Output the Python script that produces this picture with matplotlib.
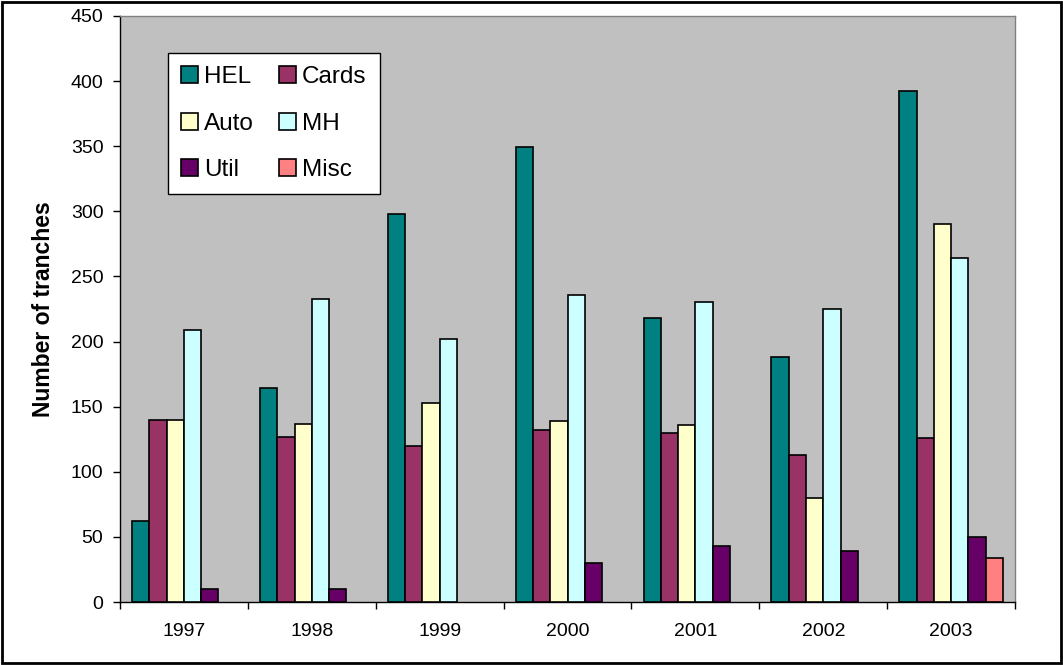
import numpy as np
import matplotlib.pyplot as plt
from matplotlib.patches import Rectangle

plt.rcParams['font.family'] = ['Liberation Sans', 'DejaVu Sans']

years = ['1997', '1998', '1999', '2000', '2001', '2002', '2003']
series = ['HEL', 'Cards', 'Auto', 'MH', 'Util', 'Misc']
hel = [62, 164, 298, 349, 218, 188, 392]
cards = [140, 127, 120, 132, 130, 113, 126]
auto = [140, 137, 153, 139, 136, 80, 290]
mh = [209, 233, 202, 236, 230, 225, 264]
util = [10, 10, 0, 30, 43, 39, 50]
misc = [0, 0, 0, 0, 0, 0, 34]
colors = ['#008080', '#993366', '#FFFFCC', '#CCFFFF', '#660066', '#FF8080']

values = [hel, cards, auto, mh, util, misc]

fig = plt.figure(figsize=(10.63, 6.65), dpi=100)
ax = fig.add_axes([0.1129, 0.0947, 0.842, 0.8813])
ax.set_facecolor('#C0C0C0')

x = np.arange(len(years))
w = 0.135
handles = []
for i, (name, vals) in enumerate(zip(series, values)):
    off = (i - 2.5) * w
    v = np.array(vals, dtype=float)
    # skip empty bars so they don't leave a black line on the axis
    mask = v > 0
    b = ax.bar(x[mask] + off, v[mask], w, color=colors[i], edgecolor='black',
               linewidth=1.2, label=name, zorder=3)
    handles.append(b)

ax.set_xlim(-0.5, len(years) - 0.5)
ax.set_ylim(0, 450)
ax.set_yticks(range(0, 451, 50))
ax.set_xticks(x)
ax.set_xticklabels(years)
ax.set_xticks(np.arange(-0.5, len(years)), minor=True)
ax.tick_params(axis='x', which='major', length=0, labelsize=14, pad=15)
ax.tick_params(axis='x', which='minor', length=5, width=1, direction='out')
ax.tick_params(axis='y', length=5, width=1, direction='out', labelsize=14, pad=7)
ax.set_ylabel('Number of tranches', fontsize=16.5, fontweight='bold', labelpad=11)

for s in ['left', 'bottom']:
    ax.spines[s].set_color('black')
    ax.spines[s].set_linewidth(1)
for s in ['top', 'right']:
    ax.spines[s].set_color('#808080')
    ax.spines[s].set_linewidth(1)

# legend fills column-wise, so reorder to read HEL Cards / Auto MH / Util Misc
order = [0, 2, 4, 1, 3, 5]
leg = ax.legend([handles[k] for k in order], [series[k] for k in order],
                ncol=2, loc='upper left', bbox_to_anchor=(0.0536, 0.937),
                fontsize=17.5, frameon=True, fancybox=False, shadow=False,
                handlelength=0.7, handleheight=0.7, handletextpad=0.25,
                labelspacing=1.0, columnspacing=1.0, borderpad=0.55,
                borderaxespad=0)
leg.get_frame().set_edgecolor('black')
leg.get_frame().set_linewidth(1)
leg.get_frame().set_facecolor('white')
leg.get_frame().set_alpha(1)

fig.patches.append(Rectangle((0.002, 0.003), 0.996, 0.994, transform=fig.transFigure,
                             fill=False, edgecolor='black', linewidth=2))

fig.savefig('out.png', dpi=100)
